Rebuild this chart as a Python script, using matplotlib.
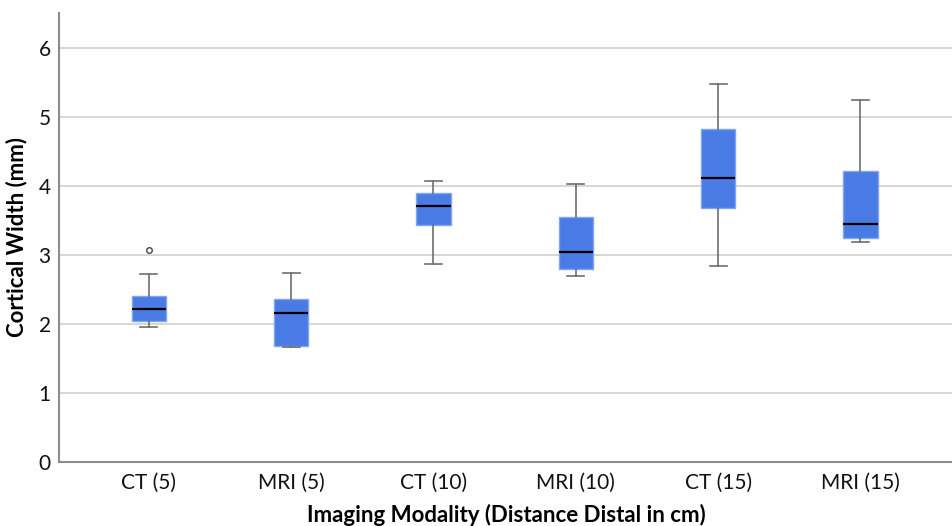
import matplotlib.pyplot as plt

# values (mm)
labels = ["CT (5)", "MRI (5)", "CT (10)", "MRI (10)", "CT (15)", "MRI (15)"]
whislo = [1.95, 1.67, 2.87, 2.69, 2.83, 3.19]
q1 = [2.04, 1.68, 3.43, 2.80, 3.68, 3.24]
med = [2.22, 2.16, 3.71, 3.04, 4.11, 3.45]
q3 = [2.40, 2.36, 3.90, 3.54, 4.82, 4.21]
whishi = [2.72, 2.74, 4.07, 4.02, 5.47, 5.24]
outliers = [[3.07], [], [], [], [], []]

plt.rcParams['font.family'] = ['Lato', 'DejaVu Sans']

stats = []
for i in range(len(labels)):
    stats.append(dict(label=labels[i], whislo=whislo[i], q1=q1[i], med=med[i],
                      q3=q3[i], whishi=whishi[i], fliers=outliers[i]))

fig = plt.figure(figsize=(9.53, 5.26), dpi=100)
ax = fig.add_axes([0.062, 0.122, 0.938, 0.853])

ax.bxp(stats, positions=range(len(labels)), widths=0.24, patch_artist=True,
       boxprops=dict(facecolor='#4a7be4', edgecolor='#7fa6f2', linewidth=1),
       medianprops=dict(color='black', linewidth=1.6),
       whiskerprops=dict(color='#6e6e6e', linewidth=1.2),
       capprops=dict(color='#6e6e6e', linewidth=1.2),
       capwidths=0.12,
       flierprops=dict(marker='o', markersize=4, markerfacecolor='white',
                       markeredgecolor='#444444', markeredgewidth=1))

ax.set_ylim(0, 6.5)
ax.set_xlim(-0.63, 5.65)
ax.set_yticks(range(0, 7))
ax.yaxis.grid(True, color='#cfcfcf', linewidth=1.2)
ax.set_axisbelow(True)

for s in ['top', 'right']:
    ax.spines[s].set_visible(False)
for s in ['left', 'bottom']:
    ax.spines[s].set_color('#8c8c8c')
    ax.spines[s].set_linewidth(1.5)

ax.tick_params(axis='both', length=0, labelsize=15, colors='#111111', pad=6)
ax.tick_params(axis='x', pad=8)

ax.set_ylabel("Cortical Width (mm)", fontsize=16, fontweight='bold', labelpad=8)
ax.set_xlabel("Imaging Modality (Distance Distal in cm)", fontsize=16,
              fontweight='bold', labelpad=8)

fig.savefig("out.png", dpi=100)
plt.close()
